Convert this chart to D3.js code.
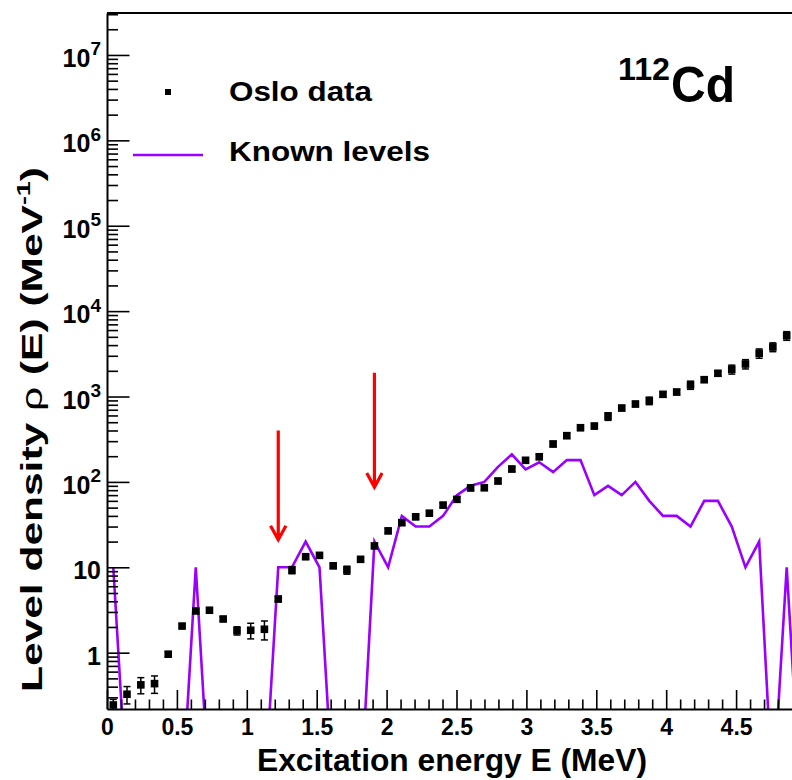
<!DOCTYPE html>
<html><head><meta charset="utf-8">
<script src="https://cdn.jsdelivr.net/npm/d3@7"></script>
<style>
body{margin:0;background:#fff}
text{font-family:"Liberation Sans",Arial,Helvetica,sans-serif;font-weight:bold;fill:#000}
</style>
</head><body>
<svg id="c" width="792" height="780"></svg>
<script>
// ---------------- data ----------------
const energyBins = [0.045,0.143,0.242,0.340,0.438,0.537,0.635,0.733,0.831,0.930,
  1.028,1.126,1.225,1.323,1.421,1.520,1.618,1.716,1.814,1.913,
  2.011,2.109,2.208,2.306,2.404,2.503,2.601,2.699,2.797,2.896,
  2.994,3.092,3.191,3.289,3.387,3.486,3.584,3.682,3.780,3.879,
  3.977,4.075,4.174,4.272,4.370,4.469,4.567,4.665,4.763,4.862,4.960];
const osloValues = [0.244,0.326,0.42,0.434,0.96,2.05,3.08,3.14,2.48,1.81,
  1.83,1.88,4.25,9.3,13.3,13.8,10.4,9.3,12.4,17.8,
  26.7,33.3,39,43,53.5,62.5,85,85.5,102.5,141.6,
  179,197,278,348,431,451,586,733,817,893,
  1061,1129,1364,1574,1871,2081,2403,3206,3800,5150];
const osloErrors = [0.04,0.075,0.09,0.10,0.06,0.12,0.18,0.18,0.15,0.2,
  0.38,0.47,0.3,0.9,0.9,0.9,0.7,1.0,0.8,1.2,
  1.8,2.3,2.7,3.0,3.7,4.4,6,6,7,10,
  13,14,20,25,30,32,60,50,57,90,
  75,80,150,110,130,250,300,400,450,600];
const knownLevels = [10,0,0,0,0,0,10,0,0,0,
  0,0,10,10,20,10,0,0,0,20,
  10,40,30,30,40,70,90,100,150,210,
  140,170,130,180,180,70,90,70,100,60,
  40,40,30,60,60,30,10,20,0,10,0];
const arrowEnergy = [1.225, 1.913];
const arrowFrom = [400, 1900];
const arrowTo = [21, 87];
const xMajorTicks = [0,0.5,1,1.5,2,2.5,3,3.5,4,4.5];
const xTickLabels = ["0","0.5","1","1.5","2","2.5","3","3.5","4","4.5"];
const yMajorTicks = [1,10,100,1e3,1e4,1e5,1e6,1e7];
const yTickLabels = [["1",""],["10",""],["10","2"],["10","3"],["10","4"],["10","5"],["10","6"],["10","7"]];
const legendLabels = ["Oslo data","Known levels"];

// ---------------- setup ----------------
const svg = d3.select("#c");
const L = 107, R = 799, T = 13, B = 709;
const x = d3.scaleLinear().domain([0, 4.95]).range([L, R]);
const y = d3.scaleLog().domain([0.219, 3.1e7]).range([B, T]);
const zeroFloor = 0.02; // empty bins drawn below the axis (clipped)
const purple = "#9900ff";

svg.append("defs").append("clipPath").attr("id","clip")
  .append("rect").attr("x",L).attr("y",T).attr("width",R-L).attr("height",B-T);
const plot = svg.append("g").attr("clip-path","url(#clip)");

// frame top
svg.append("line").attr("x1",L).attr("x2",R).attr("y1",T).attr("y2",T)
  .attr("stroke","#000").attr("stroke-width",2);

// ---------------- axes ----------------
const xMinor = d3.range(0, 49).map(i => i/10).filter(v => Math.abs(v*2-Math.round(v*2))>1e-6);
const gxm = svg.append("g").attr("transform",`translate(0,${B})`)
  .call(d3.axisBottom(x).tickValues(xMinor).tickSizeInner(-9.5).tickSizeOuter(0).tickFormat(""));
gxm.select(".domain").remove();
const gx = svg.append("g").attr("transform",`translate(0,${B})`)
  .call(d3.axisBottom(x).tickValues(xMajorTicks).tickSizeInner(-19).tickSizeOuter(0)
    .tickFormat((d,i)=>xTickLabels[i]));
gx.selectAll("text").attr("y",26).attr("dy",0).attr("font-size",23)
  .style("font-family",'"Liberation Sans",Arial,sans-serif').style("font-weight","bold");

const yMinor = [];
for (let e=-1;e<=7;e++) for (let k=2;k<=9;k++){ const v=k*Math.pow(10,e); if (v>0.219 && v<3.1e7) yMinor.push(v); }
const gym = svg.append("g").attr("transform",`translate(${L},0)`)
  .call(d3.axisLeft(y).tickValues(yMinor).tickSizeInner(-11).tickSizeOuter(0).tickFormat(""));
gym.select(".domain").remove();
const gy = svg.append("g").attr("transform",`translate(${L},0)`)
  .call(d3.axisLeft(y).tickValues(yMajorTicks).tickSizeInner(-22.5).tickSizeOuter(0).tickPadding(6).tickFormat(""));
gy.selectAll(".tick text").each(function(d,i){
  const t = d3.select(this).text(null).attr("dy",null).attr("y",0)
    .style("font-family",'"Liberation Sans",Arial,sans-serif').style("font-weight","bold");
  const lab = yTickLabels[i];
  t.append("tspan").attr("dy",11.6).attr("font-size",25).text(lab[0]);
  if (lab[1]) t.append("tspan").attr("dy",-11.6).attr("font-size",19).text(lab[1]);
});
[gx,gy,gxm,gym].forEach(g=>{
  g.selectAll(".tick line").attr("stroke","#000").attr("stroke-width",1.6);
  g.select(".domain").attr("stroke","#000").attr("stroke-width",2);
});

// ---------------- known levels ----------------
const line = d3.line().x((d,i)=>x(energyBins[i])).y(d=>y(d>0?d:zeroFloor));
plot.append("path").datum(knownLevels).attr("d",line)
  .attr("fill","none").attr("stroke",purple).attr("stroke-width",2.6).attr("stroke-linejoin","miter");

// ---------------- oslo data ----------------
const pts = osloValues.map((v,i)=>({e:energyBins[i], v, err:osloErrors[i]}));
const eb = plot.append("g").attr("stroke","#000").attr("stroke-width",1.5);
pts.forEach(p=>{
  const cx = x(p.e), y1 = y(p.v+p.err), y0 = y(Math.max(p.v-p.err, 1e-3));
  eb.append("line").attr("x1",cx).attr("x2",cx).attr("y1",y1).attr("y2",y0);
  eb.append("line").attr("x1",cx-3.5).attr("x2",cx+3.5).attr("y1",y1).attr("y2",y1);
  eb.append("line").attr("x1",cx-3.5).attr("x2",cx+3.5).attr("y1",y0).attr("y2",y0);
});
const ms = 7.6;
plot.append("g").selectAll("rect").data(pts).join("rect")
  .attr("x",d=>x(d.e)-ms/2).attr("y",d=>y(d.v)-ms/2).attr("width",ms).attr("height",ms).attr("fill","#000");

// ---------------- arrows ----------------
arrowEnergy.forEach((e,i)=>{
  const ax = x(e), y0 = y(arrowFrom[i]), y1 = y(arrowTo[i]);
  svg.append("path").attr("d",`M${ax},${y0}V${y1}M${ax-7.7},${y1-14}L${ax},${y1}L${ax+7.7},${y1-14}`)
    .attr("fill","none").attr("stroke","#ff0000").attr("stroke-width",3.2);
});

// ---------------- legend ----------------
svg.append("rect").attr("x",168-3).attr("y",92-3).attr("width",6).attr("height",6).attr("fill","#000");
svg.append("line").attr("x1",133).attr("x2",203).attr("y1",155).attr("y2",155)
  .attr("stroke",purple).attr("stroke-width",2.6);
svg.append("text").attr("x",229).attr("y",101).attr("font-size",27)
  .attr("textLength",143).attr("lengthAdjust","spacingAndGlyphs").text(legendLabels[0]);
svg.append("text").attr("x",229).attr("y",161).attr("font-size",27)
  .attr("textLength",201).attr("lengthAdjust","spacingAndGlyphs").text(legendLabels[1]);

// ---------------- title ----------------
svg.append("text").attr("x",618).attr("y",80).attr("font-size",31)
  .attr("textLength",52).attr("lengthAdjust","spacingAndGlyphs").text("112");
svg.append("text").attr("x",671).attr("y",102).attr("font-size",50)
  .attr("textLength",64).attr("lengthAdjust","spacingAndGlyphs").text("Cd");

// ---------------- axis titles ----------------
svg.append("text").attr("x",257).attr("y",771).attr("font-size",31)
  .attr("textLength",390).attr("lengthAdjust","spacingAndGlyphs").text("Excitation energy E (MeV)");
const yt = svg.append("text").attr("transform","translate(42,692) rotate(-90)")
  .attr("x",0).attr("y",0).attr("font-size",30)
  .attr("textLength",525).attr("lengthAdjust","spacingAndGlyphs");
yt.append("tspan").text("Level density ");
yt.append("tspan").style("font-weight","normal").text("ρ");
yt.append("tspan").text(" (E) (MeV");
yt.append("tspan").attr("dy",-12).attr("font-size",19).text("-1");
yt.append("tspan").attr("dy",12).text(")");
</script>
</body></html>
